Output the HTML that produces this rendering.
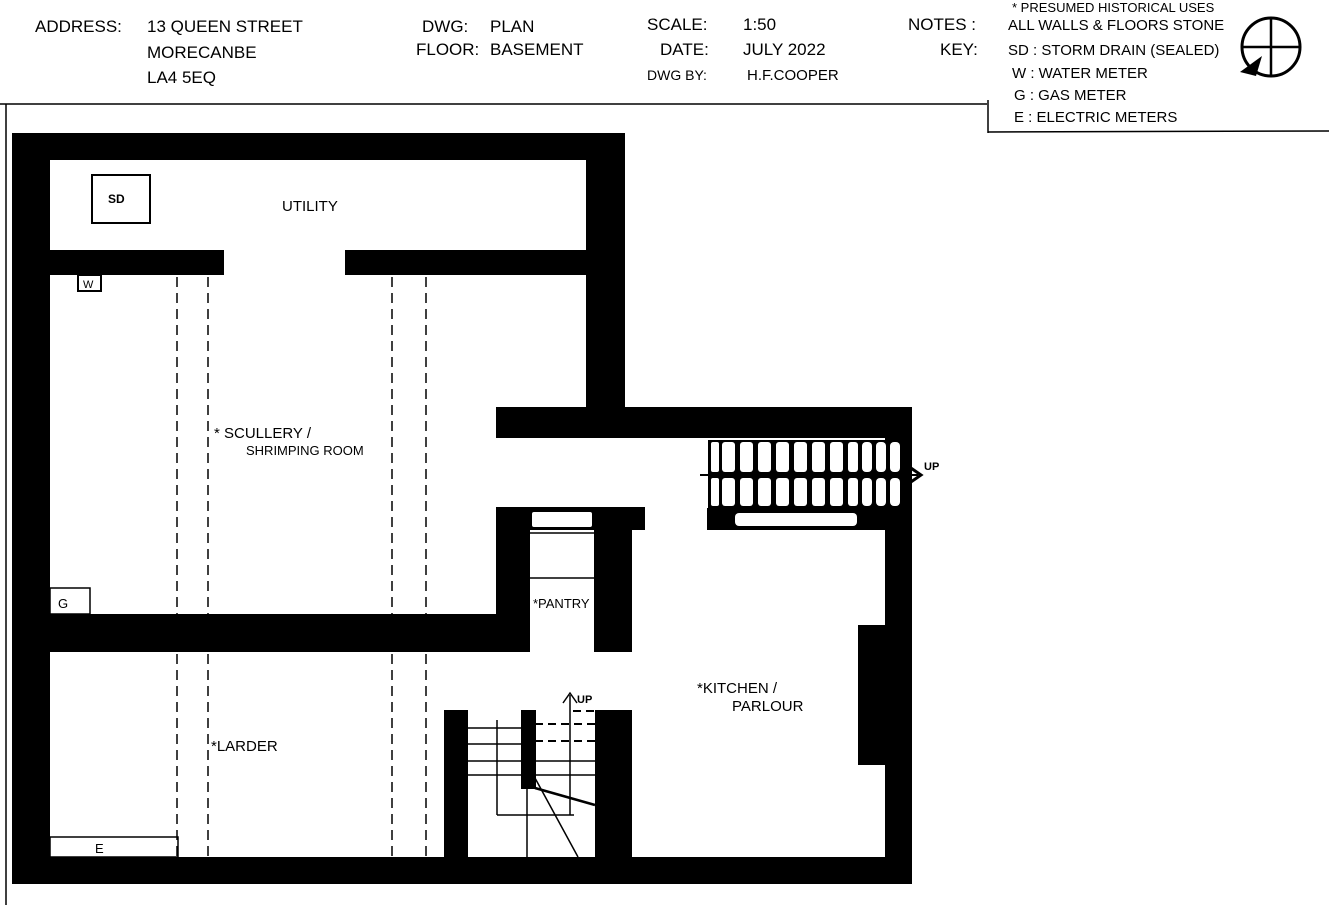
<!DOCTYPE html>
<html><head><meta charset="utf-8"><style>
html,body{margin:0;padding:0;background:#fff;}
svg{display:block;}
text{font-family:"Liberation Sans",sans-serif;fill:#000;}
</style></head><body>
<svg width="1329" height="905" viewBox="0 0 1329 905" xmlns="http://www.w3.org/2000/svg">
<rect width="1329" height="905" fill="#fff"/>
<!-- header lines -->
<line x1="0" y1="104" x2="987" y2="104" stroke="#000" stroke-width="1.5"/>
<line x1="6" y1="104" x2="6" y2="905" stroke="#000" stroke-width="1.5"/>
<line x1="988" y1="100" x2="988" y2="133" stroke="#000" stroke-width="1.5"/>
<line x1="988" y1="132" x2="1329" y2="131" stroke="#000" stroke-width="1.5"/>
<!-- header text -->
<g font-size="17">
<text x="35" y="32">ADDRESS:</text>
<text x="147" y="32">13 QUEEN STREET</text>
<text x="147" y="58">MORECANBE</text>
<text x="147" y="83">LA4 5EQ</text>
<text x="422" y="32">DWG:</text>
<text x="490" y="32">PLAN</text>
<text x="416" y="55">FLOOR:</text>
<text x="490" y="55">BASEMENT</text>
<text x="647" y="30">SCALE:</text>
<text x="743" y="30">1:50</text>
<text x="660" y="55">DATE:</text>
<text x="743" y="55">JULY 2022</text>
<text x="647" y="80" font-size="14">DWG BY:</text>
<text x="747" y="80" font-size="15">H.F.COOPER</text>
<text x="908" y="30">NOTES :</text>
<text x="940" y="55">KEY:</text>
</g>
<g font-size="15">
<text x="1012" y="12" font-size="13">* PRESUMED HISTORICAL USES</text>
<text x="1008" y="30">ALL WALLS &amp; FLOORS STONE</text>
<text x="1008" y="55">SD : STORM DRAIN (SEALED)</text>
<text x="1012" y="78">W : WATER METER</text>
<text x="1014" y="100">G : GAS METER</text>
<text x="1014" y="122">E : ELECTRIC METERS</text>
</g>
<!-- north symbol -->
<circle cx="1271" cy="47" r="29" fill="none" stroke="#000" stroke-width="3"/>
<line x1="1271" y1="18" x2="1271" y2="76" stroke="#000" stroke-width="2.5"/>
<line x1="1242" y1="47" x2="1300" y2="47" stroke="#000" stroke-width="2.5"/>
<path d="M1240 72 L1262 56 L1256 76 Z" fill="#000"/>

<!-- walls -->
<g fill="#000">
<!-- top block -->
<rect x="12" y="133" width="613" height="27"/>
<rect x="12" y="133" width="38" height="751"/>
<rect x="586" y="133" width="39" height="305"/>
<rect x="50" y="250" width="174" height="25"/>
<rect x="345" y="250" width="241" height="25"/>
<!-- middle horizontal -->
<rect x="496" y="407" width="416" height="31"/>
<rect x="12" y="614" width="518" height="38"/>
<!-- pantry -->
<rect x="496" y="508" width="34" height="144"/>
<rect x="496" y="507" width="149" height="23"/>
<rect x="594" y="507" width="38" height="145"/>
<!-- stair upper -->
<rect x="708" y="440" width="202" height="68"/>
<rect x="707" y="508" width="178" height="22"/>
<!-- right wall -->
<rect x="885" y="438" width="27" height="446"/>
<rect x="858" y="625" width="30" height="140"/>
<!-- bottom -->
<rect x="12" y="857" width="900" height="27"/>
<!-- lower stair walls -->
<rect x="444" y="710" width="24" height="150"/>
<rect x="521" y="710" width="15" height="79"/>
<rect x="595" y="710" width="37" height="150"/>
</g>
<!-- pantry white inner bits -->
<rect x="532" y="512" width="60" height="15" fill="#fff" rx="2"/>
<line x1="530" y1="533" x2="594" y2="533" stroke="#000" stroke-width="1.5"/>
<line x1="530" y1="578" x2="594" y2="578" stroke="#000" stroke-width="1.5"/>
<rect x="735" y="513" width="122" height="13" fill="#fff" rx="4"/>
<!-- stair treads upper -->
<g fill="#fff">
<rect x="711" y="442" width="8" height="30" rx="2"/><rect x="711" y="478" width="8" height="28" rx="2"/>
</g>
<g fill="#fff" id="tr">
<rect x="722" y="442" width="13" height="30" rx="3"/><rect x="722" y="478" width="13" height="28" rx="3"/>
<rect x="740" y="442" width="13" height="30" rx="3"/><rect x="740" y="478" width="13" height="28" rx="3"/>
<rect x="758" y="442" width="13" height="30" rx="3"/><rect x="758" y="478" width="13" height="28" rx="3"/>
<rect x="776" y="442" width="13" height="30" rx="3"/><rect x="776" y="478" width="13" height="28" rx="3"/>
<rect x="794" y="442" width="13" height="30" rx="3"/><rect x="794" y="478" width="13" height="28" rx="3"/>
<rect x="812" y="442" width="13" height="30" rx="3"/><rect x="812" y="478" width="13" height="28" rx="3"/>
<rect x="830" y="442" width="13" height="30" rx="3"/><rect x="830" y="478" width="13" height="28" rx="3"/>
<rect x="848" y="442" width="10" height="30" rx="3"/><rect x="848" y="478" width="10" height="28" rx="3"/>
<rect x="862" y="442" width="10" height="30" rx="4"/><rect x="862" y="478" width="10" height="28" rx="4"/>
<rect x="876" y="442" width="10" height="30" rx="4"/><rect x="876" y="478" width="10" height="28" rx="4"/>
<rect x="890" y="442" width="10" height="30" rx="4"/><rect x="890" y="478" width="10" height="28" rx="4"/>
</g>
<line x1="700" y1="475" x2="918" y2="475" stroke="#000" stroke-width="2"/>
<path d="M908 466 L921 475 L908 484" fill="none" stroke="#000" stroke-width="3"/>
<text x="924" y="470" font-size="11" font-weight="bold">UP</text>

<!-- SD box, meters -->
<rect x="92" y="175" width="58" height="48" fill="#fff" stroke="#000" stroke-width="2"/>
<text x="108" y="203" font-size="12" font-weight="bold">SD</text>
<rect x="78" y="275" width="23" height="16" fill="#fff" stroke="#000" stroke-width="2"/>
<text x="83" y="288" font-size="11">W</text>
<rect x="50" y="588" width="40" height="26" fill="#fff" stroke="#000" stroke-width="1.5"/>
<text x="58" y="608" font-size="13">G</text>
<rect x="50" y="837" width="128" height="20" fill="#fff" stroke="#000" stroke-width="1.5"/>
<text x="95" y="853" font-size="13">E</text>

<!-- dashed lines -->
<g stroke="#000" stroke-width="1.5" stroke-dasharray="10 6">
<line x1="177" y1="277" x2="177" y2="614"/><line x1="208" y1="277" x2="208" y2="614"/>
<line x1="392" y1="277" x2="392" y2="614"/><line x1="426" y1="277" x2="426" y2="614"/>
<line x1="177" y1="654" x2="177" y2="857"/><line x1="208" y1="654" x2="208" y2="857"/>
<line x1="392" y1="654" x2="392" y2="857"/><line x1="426" y1="654" x2="426" y2="857"/>
</g>

<!-- lower stair -->
<g stroke="#000" stroke-width="1.5" fill="none">
<line x1="468" y1="728" x2="521" y2="728"/>
<line x1="468" y1="744" x2="521" y2="744"/>
<line x1="468" y1="761" x2="595" y2="761"/>
<line x1="468" y1="775" x2="595" y2="775"/>
<line x1="497" y1="720" x2="497" y2="815"/>
<line x1="497" y1="815" x2="574" y2="815"/>
<line x1="527" y1="789" x2="527" y2="857"/>
<line x1="535" y1="778" x2="578" y2="857"/>
<line x1="535" y1="788" x2="595" y2="805" stroke-width="2.5"/>
<line x1="570" y1="695" x2="570" y2="815"/>
<path d="M563 703 L570 693 L577 703"/>
<line x1="535" y1="724" x2="595" y2="724" stroke-dasharray="8 5" stroke-width="2"/>
<line x1="535" y1="741" x2="595" y2="741" stroke-dasharray="8 5" stroke-width="2"/>
<line x1="573" y1="711" x2="595" y2="711" stroke-dasharray="8 5" stroke-width="2"/>
</g>
<text x="577" y="703" font-size="11" font-weight="bold">UP</text>

<!-- room labels -->
<g font-size="15">
<text x="282" y="211">UTILITY</text>
<text x="214" y="438">* SCULLERY /</text>
<text x="246" y="455" font-size="13">SHRIMPING ROOM</text>
<text x="533" y="608" font-size="13">*PANTRY</text>
<text x="697" y="693">*KITCHEN /</text>
<text x="732" y="711">PARLOUR</text>
<text x="211" y="751">*LARDER</text>
</g>
</svg>
</body></html>
